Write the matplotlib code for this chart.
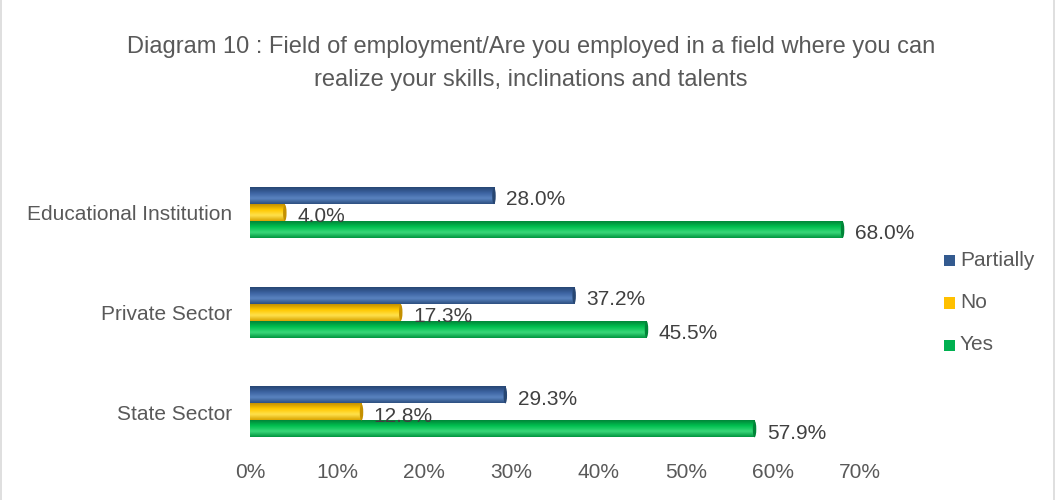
import numpy as np
import matplotlib.pyplot as plt
from matplotlib.colors import LinearSegmentedColormap
from matplotlib.patches import Ellipse, Rectangle
from matplotlib.ticker import PercentFormatter

plt.rcParams['font.family'] = ['Liberation Sans Narrow', 'Liberation Sans', 'DejaVu Sans']

categories = ['State Sector', 'Private Sector', 'Educational Institution']
series = ['Partially', 'No', 'Yes']
partially = [29.3, 37.2, 28.0]
no = [12.8, 17.3, 4.0]
yes = [57.9, 45.5, 68.0]
values = [partially, no, yes]

colors = ['#335a8f', '#ffc000', '#00b050']
# dark edge / bright highlight / body / dark edge for the tube look
shades = [
    ['#2c4f80', '#5a84c0', '#3b62a0', '#274672'],
    ['#d9a300', '#ffe14d', '#ffc800', '#c49000'],
    ['#00953f', '#3ad87a', '#00c050', '#008538'],
]

fig = plt.figure(figsize=(10.56, 5.0), dpi=100)
ax = fig.add_axes([0.2367, 0.096, 0.8144 - 0.2367, 0.574])

bar_h = 0.165
offsets = [0.17, 0.0, -0.17]
y = np.arange(len(categories))

for s, (vals, col, sh, off) in enumerate(zip(values, colors, shades, offsets)):
    cmap = LinearSegmentedColormap.from_list('tube%d' % s, sh)
    grad = np.linspace(0, 1, 64).reshape(-1, 1)
    for yi, v in zip(y, vals):
        y0, y1 = yi + off - bar_h / 2, yi + off + bar_h / 2
        ax.imshow(grad, cmap=cmap, extent=[0, v, y1, y0], aspect='auto',
                  interpolation='bicubic', zorder=2)
        ax.add_patch(Ellipse((v, yi + off), 0.4, bar_h, facecolor=sh[3],
                             edgecolor='none', zorder=3))
        ax.text(v + 1.4, yi + off - 0.04, '%.1f%%' % v, va='center', ha='left',
                fontsize=15, color='#404040', zorder=4)

ax.set_xlim(0, 70)
ax.set_ylim(-0.40, 2.48)
ax.set_xticks(np.arange(0, 71, 10))
ax.xaxis.set_major_formatter(PercentFormatter(decimals=0))
ax.set_yticks(y)
ax.set_yticklabels(categories)
ax.tick_params(axis='both', length=0, labelsize=15, labelcolor='#595959')
ax.tick_params(axis='y', pad=13)
ax.tick_params(axis='x', pad=8)
for sp in ax.spines.values():
    sp.set_visible(False)

# legend drawn by hand so the squares stay small
for i, (name, col) in enumerate(zip(series, colors)):
    yy = 1 - (260 + i * 42.5) / 500
    fig.patches.append(Rectangle((944 / 1056, yy - 0.012), 0.0108, 0.023,
                                 transform=fig.transFigure, facecolor=col,
                                 edgecolor='none'))
    fig.text(960 / 1056, yy, name, va='center', ha='left', fontsize=15,
             color='#595959')

fig.text(0.503, 1 - 47 / 500, 'Diagram 10 : Field of employment/Are you employed in a field where you can',
         ha='center', va='center', fontsize=17, color='#595959')
fig.text(0.503, 1 - 80 / 500, 'realize your skills, inclinations and talents',
         ha='center', va='center', fontsize=17, color='#595959')

fig.patches.append(Rectangle((0.001, -0.01), 0.997, 1.02, transform=fig.transFigure,
                             facecolor='none', edgecolor='#d9d9d9', linewidth=1.2))

fig.savefig('out.png', dpi=100)
